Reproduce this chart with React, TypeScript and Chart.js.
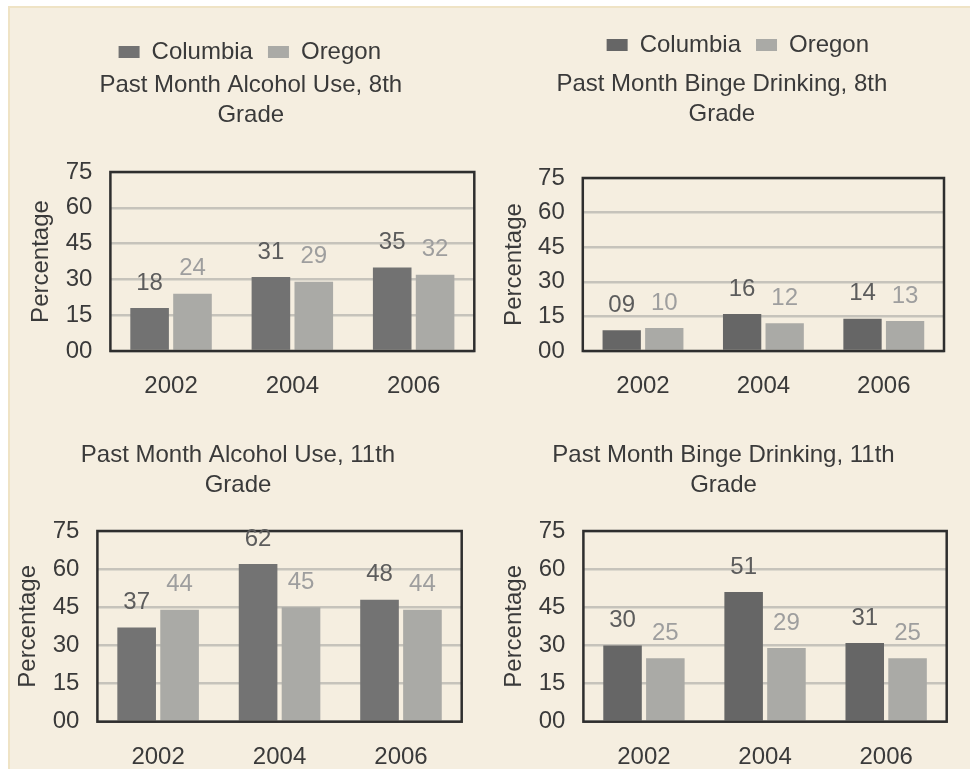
import React, { useEffect, useRef } from 'react';
import { Chart, registerables } from 'chart.js';

Chart.register(...registerables);

const years = ['2002', '2004', '2006'];
const seriesNames = ['Columbia', 'Oregon'];
const yTicksMax = 75;
const yTickStep = 15;

const alcohol8Columbia = [18, 31, 35];
const alcohol8Oregon = [24, 29, 32];
const binge8Columbia = [9, 16, 14];
const binge8Oregon = [10, 12, 13];
const alcohol11Columbia = [37, 62, 48];
const alcohol11Oregon = [44, 45, 44];
const binge11Columbia = [30, 51, 31];
const binge11Oregon = [25, 29, 25];

const titleAlcohol8 = ['Past Month Alcohol Use, 8th', 'Grade'];
const titleBinge8 = ['Past Month Binge Drinking, 8th', 'Grade'];
const titleAlcohol11 = ['Past Month Alcohol Use, 11th', 'Grade'];
const titleBinge11 = ['Past Month Binge Drinking, 11th', 'Grade'];

const FONT = '"Liberation Sans", Arial, Helvetica, sans-serif';
const TEXT = '#3a3a3a';
const OREGON = '#aaaaa6';

type Panel = {
  left: number; top: number; width: number; height: number;
  pad: { left: number; right: number; top: number; bottom: number };
  title: string[]; titlePad: { top: number; bottom: number };
  legend: boolean; legendShift: number;
  columbia: number[]; oregon: number[]; columbiaColor: string;
};

const pad2 = (v: number) => String(v).padStart(2, '0');

const panels: Panel[] = [
  {
    left: 0, top: 0, width: 480, height: 424,
    pad: { left: 27.3, right: 5.7, top: 25, bottom: 2.2 },
    title: titleAlcohol8, titlePad: { top: -3.5, bottom: 41.5 },
    legend: true, legendShift: -1,
    columbia: alcohol8Columbia, oregon: alcohol8Oregon, columbiaColor: '#727272',
  },
  {
    left: 485, top: 0, width: 485, height: 424,
    pad: { left: 14.7, right: 26, top: 18, bottom: 2.2 },
    title: titleBinge8, titlePad: { top: 2.5, bottom: 48.5 },
    legend: true, legendShift: 16,
    columbia: binge8Columbia, oregon: binge8Oregon, columbiaColor: '#666666',
  },
  {
    left: 0, top: 400, width: 470, height: 395,
    pad: { left: 14.3, right: 8.3, top: 0, bottom: 2.5 },
    title: titleAlcohol11, titlePad: { top: 40.3, bottom: 30.7 },
    legend: false, legendShift: 0,
    columbia: alcohol11Columbia, oregon: alcohol11Oregon, columbiaColor: '#737373',
  },
  {
    left: 485, top: 400, width: 485, height: 395,
    pad: { left: 15.3, right: 23.3, top: 0, bottom: 2.5 },
    title: titleBinge11, titlePad: { top: 40.3, bottom: 30.7 },
    legend: false, legendShift: 0,
    columbia: binge11Columbia, oregon: binge11Oregon, columbiaColor: '#666666',
  },
];

const framePlugin = {
  id: 'frame',
  afterDatasetsDraw(chart: any) {
    const { ctx, chartArea } = chart;
    ctx.save();
    ctx.strokeStyle = '#2e2e2e';
    ctx.lineWidth = 2.5;
    ctx.strokeRect(chartArea.left, chartArea.top, chartArea.right - chartArea.left, chartArea.bottom - chartArea.top);
    ctx.restore();
  },
};

const labelColors = ['#5c5c5c', '#9e9e9e'];

const valueLabelPlugin = {
  id: 'valueLabels',
  afterDatasetsDraw(chart: any) {
    const { ctx } = chart;
    ctx.save();
    ctx.font = `24px ${FONT}`;
    ctx.textAlign = 'center';
    ctx.textBaseline = 'middle';
    chart.data.datasets.forEach((ds: any, di: number) => {
      const meta = chart.getDatasetMeta(di);
      ctx.fillStyle = labelColors[di];
      meta.data.forEach((bar: any, i: number) => {
        ctx.fillText(pad2(ds.data[i]), bar.x, bar.y - 25);
      });
    });
    ctx.restore();
  },
};

function makeLegendShift(shift: number) {
  return {
    id: 'legendShift',
    afterLayout(chart: any) {
      if (chart.legend && shift) {
        chart.legend.left += shift;
        chart.legend.right += shift;
      }
    },
  };
}

function PanelChart({ p }: { p: Panel }) {
  const ref = useRef<HTMLCanvasElement>(null);
  useEffect(() => {
    if (!ref.current) return;
    const chart = new Chart(ref.current, {
      type: 'bar',
      data: {
        labels: years,
        datasets: [
          { label: seriesNames[0], data: p.columbia, backgroundColor: p.columbiaColor, borderWidth: 0 },
          { label: seriesNames[1], data: p.oregon, backgroundColor: OREGON, borderWidth: 0 },
        ],
      },
      options: {
        responsive: false,
        animation: false,
        devicePixelRatio: 1,
        events: [],
        layout: { padding: p.pad },
        datasets: { bar: { categoryPercentage: 0.707, barPercentage: 0.9 } },
        plugins: {
          tooltip: { enabled: false },
          legend: {
            display: p.legend,
            position: 'top',
            weight: 3000,
            labels: {
              boxWidth: 21, boxHeight: 12, padding: 15,
              color: TEXT, font: { family: FONT, size: 24 },
            },
          },
          title: {
            display: true,
            text: p.title,
            color: TEXT,
            weight: 1000,
            font: { family: FONT, size: 24, weight: 'normal', lineHeight: 1.25 },
            padding: p.titlePad,
          },
        },
        scales: {
          x: {
            grid: { display: false, drawTicks: false },
            border: { display: false },
            ticks: { color: TEXT, padding: 21, font: { family: FONT, size: 24 } },
          },
          y: {
            min: 0, max: yTicksMax,
            grid: { color: '#c6c3bb', lineWidth: 2.5, drawTicks: false },
            border: { display: false },
            ticks: {
              stepSize: yTickStep, color: TEXT, padding: 18,
              font: { family: FONT, size: 24 },
              callback: (v: any) => pad2(Number(v)),
            },
            title: {
              display: true, text: 'Percentage', color: TEXT,
              font: { family: FONT, size: 24, lineHeight: 1.2 },
              padding: { top: 0, bottom: -8.4 },
            },
          },
        },
      },
      plugins: [framePlugin, valueLabelPlugin, makeLegendShift(p.legendShift)],
    } as any);
    return () => chart.destroy();
  }, [p]);
  return (
    <canvas
      ref={ref}
      width={p.width}
      height={p.height}
      style={{ position: 'absolute', left: p.left, top: p.top, width: p.width, height: p.height }}
    />
  );
}

export default function App() {
  return (
    <div style={{ position: 'fixed', left: 0, top: 0, width: 970, height: 769, overflow: 'hidden', background: '#ffffff' }}>
      <div style={{ position: 'absolute', left: 8, top: 6, right: 0, bottom: 0, background: '#f5eee0', borderLeft: '2px solid #efe3c5', borderTop: '2px solid #efe3c5' }} />
      {panels.map((p, i) => <PanelChart key={i} p={p} />)}
    </div>
  );
}
